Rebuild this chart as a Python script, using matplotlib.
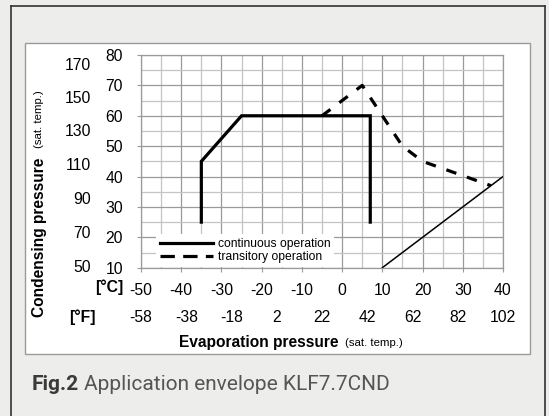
import matplotlib
matplotlib.use("Agg")
import matplotlib.pyplot as plt
from matplotlib.lines import Line2D
from matplotlib.patches import Rectangle
from matplotlib.transforms import blended_transform_factory

# ---- data ----
cont_x = [-35, -35, -25, 7, 7]
cont_y = [25, 45, 60, 60, 25]
trans_x = [-5, 5, 15, 20, 37]
trans_y = [60, 70, 50, 45, 37]
limit_x = [10, 40]
limit_y = [10, 40]
c_ticks = [-50, -40, -30, -20, -10, 0, 10, 20, 30, 40]
f_labels = [-58, -38, -18, 2, 22, 42, 62, 82, 102]
f_pos = [-50, -38.75, -27.5, -16.25, -5, 6.25, 17.5, 28.75, 40]
y_ticks = [10, 20, 30, 40, 50, 60, 70, 80]
psi_labels = [50, 70, 90, 110, 130, 150, 170]
psi_pos = [10, 21.1, 32.3, 43.5, 54.8, 65.8, 76.7]

W, H = 549, 416
fig = plt.figure(figsize=(W / 100, H / 100), dpi=100)
fig.patch.set_facecolor("#ededeb")


def fx(x):
    return x / W


def fy(y):
    return 1 - y / H


# outer frame (left, top, right)
for xs, ys in [((10.6, 10.6), (5.7, 420)), ((10.6, 545), (5.7, 5.7)),
               ((545, 545), (5.7, 420))]:
    fig.add_artist(Line2D([fx(xs[0]), fx(xs[1])], [fy(ys[0]), fy(ys[1])],
                          transform=fig.transFigure, color="#333333", lw=1.2))

# white panel
fig.add_artist(Rectangle((fx(25.4), fy(354)), fx(530) - fx(25.4), fy(43.3) - fy(354),
                         transform=fig.transFigure, facecolor="white",
                         edgecolor="#9a9a9a", lw=1.0, zorder=0))

L, R, T, B = 141, 503, 55, 267.7
ax = fig.add_axes([fx(L), fy(B), fx(R) - fx(L), fy(T) - fy(B)])
ax.set_xlim(-50, 40)
ax.set_ylim(10, 80)
ax.set_facecolor("white")

ax.set_xticks(c_ticks)
ax.set_xticks(range(-45, 40, 10), minor=True)
ax.set_yticks(y_ticks)
ax.set_yticks(range(15, 80, 10), minor=True)
ax.grid(which="major", color="#9a9a9a", lw=0.9)
ax.grid(which="minor", color="#c4c4c4", lw=0.9)
ax.set_axisbelow(True)
for s in ax.spines.values():
    s.set_color("#9a9a9a")
    s.set_linewidth(0.9)

tick_font = dict(family="Liberation Sans", size=11.3)
ax.tick_params(which="major", length=3, color="#9a9a9a")
ax.tick_params(which="minor", length=0)
ax.set_xticklabels([str(v) for v in c_ticks], fontdict=tick_font)
ax.set_yticklabels([str(v) for v in y_ticks], fontdict=tick_font)
ax.tick_params(axis="y", pad=10)
ax.tick_params(axis="x", pad=8)

# curves
ax.plot(cont_x, cont_y, color="black", lw=2.3, solid_joinstyle="miter")
ax.plot(trans_x, trans_y, color="black", lw=2.3, linestyle=(0, (3.3, 3.5)),
        dash_capstyle="butt")
ax.plot(limit_x, limit_y, color="black", lw=1.1)

handles = [Line2D([], [], color="black", lw=2.3),
           Line2D([], [], color="black", lw=2.3, linestyle=(0, (4.5, 2.6)))]
ax.legend(handles, ["continuous operation", "transitory operation"],
          loc="lower left", bbox_to_anchor=(0.042, 0.004),
          prop=dict(family="Liberation Sans", size=8.7),
          frameon=True, fancybox=False, framealpha=1, facecolor="white",
          edgecolor="none", borderpad=0.3, handlelength=4.4,
          handletextpad=0.4, labelspacing=0.1, borderaxespad=0)

# psi labels on the left
psi_x = (91 - L) / (R - L)
for p, pos in zip(psi_labels, psi_pos):
    ax.text(psi_x, pos, str(p), transform=ax.get_yaxis_transform(),
            ha="right", va="center", **tick_font)

# Fahrenheit labels
ftrans = blended_transform_factory(ax.transData, fig.transFigure)
for f, pos in zip(f_labels, f_pos):
    ax.text(pos, fy(317), str(f), transform=ftrans, ha="center", va="center",
            **tick_font)

bold = dict(family="Liberation Sans", weight="bold", size=11.3)
fig.text(fx(109), fy(287), "[°C]", ha="center", va="center", **bold)
fig.text(fx(82), fy(317), "[°F]", ha="center", va="center", **bold)

# axis titles
big_bold = dict(family="Liberation Sans", weight="bold", size=11.2)
fig.text(fx(39.4), fy(237.5), "Condensing pressure", rotation=90,
         ha="center", va="center", **big_bold)
fig.text(fx(39.4), fy(119), "(sat. temp.)", rotation=90, ha="center", va="center",
         family="Liberation Sans", size=8.2)
fig.text(fx(258.5), fy(342), "Evaporation pressure", ha="center", va="center",
         **big_bold)
fig.text(fx(373.5), fy(343), "(sat. temp.)", ha="center", va="center",
         family="Liberation Sans", size=8.2)

# caption
t1 = fig.text(fx(32), fy(384), "Fig.2", ha="left", va="center",
              family="Roboto", weight="bold", size=15, color="#3a3a3a")
fig.canvas.draw()
bb = t1.get_window_extent()
fig.text(bb.x1 / W + fx(5), fy(384), "Application envelope KLF7.7CND", ha="left",
         va="center", family="Roboto", size=15, color="#555555")

fig.savefig("out.png", dpi=100, facecolor=fig.get_facecolor())
